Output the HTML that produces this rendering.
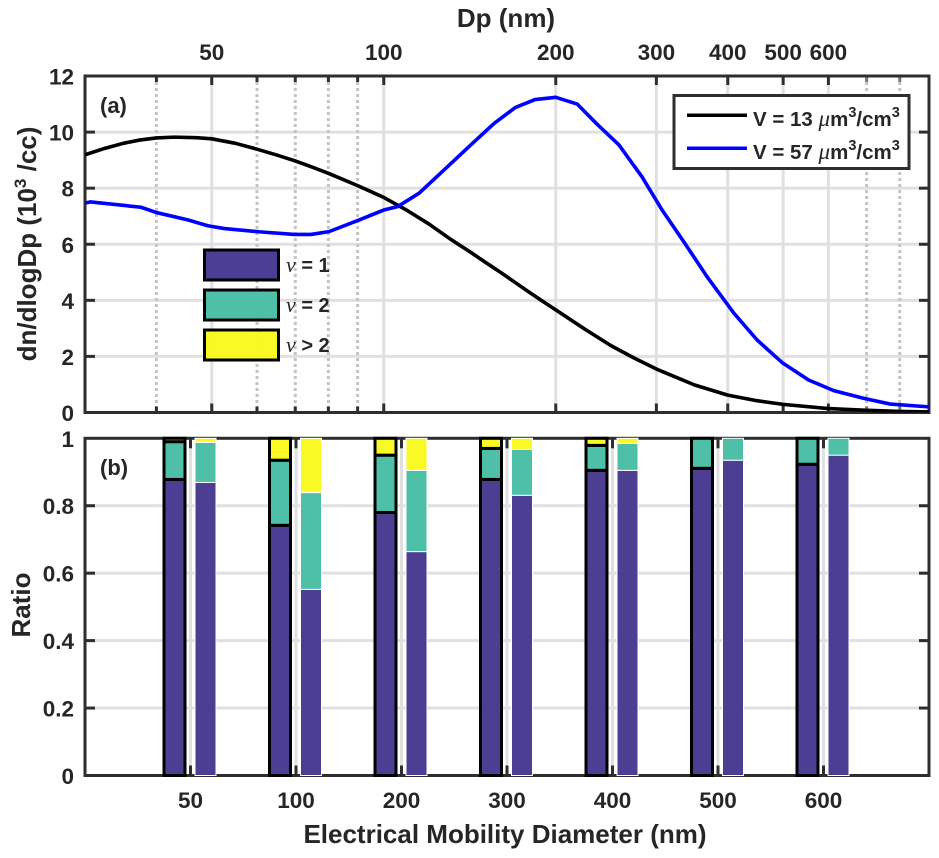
<!DOCTYPE html>
<html lang="en">
<head>
<meta charset="utf-8">
<title>Size distribution and charge ratio</title>
<style>
html,body{margin:0;padding:0;background:#fff;}
svg{display:block;}
text{font-family:"Liberation Sans",sans-serif;font-weight:bold;fill:#262626;}
.mu{font-family:"Liberation Serif",serif;font-style:italic;font-weight:normal;}
</style>
</head>
<body>
<svg id="chart" xmlns="http://www.w3.org/2000/svg" width="939" height="858" viewBox="0 0 939 858">
  <defs>
    <clipPath id="clip-a"><rect x="85" y="76" width="844" height="336.5"/></clipPath>
  </defs>
  <rect x="0" y="0" width="939" height="858" fill="#ffffff"/>
  <g id="grid-a"></g>
  <g id="ticks-a"></g>
  <rect x="85" y="76" width="844" height="336.5" fill="none" stroke="#2e2e2e" stroke-width="3"/>
  <g id="curves-a" clip-path="url(#clip-a)"></g>
  <g id="labels-a"></g>

  <text x="506" y="27" font-size="26" text-anchor="middle">Dp (nm)</text>
  <text transform="translate(36,244) rotate(-90)" font-size="26" text-anchor="middle">dn/dlogDp (10<tspan font-size="17" dy="-10">3</tspan><tspan dy="10"> /cc)</tspan></text>
  <text x="100" y="113" font-size="22">(a)</text>

  <g>
    <rect x="674" y="95.5" width="235" height="73" fill="#ffffff" stroke="#2e2e2e" stroke-width="3"/>
    <line x1="687" x2="747" y1="115.3" y2="115.3" stroke="#000000" stroke-width="3.5"/>
    <line x1="687" x2="747" y1="148.3" y2="148.3" stroke="#0000ff" stroke-width="3.5"/>
    <text x="753" y="126" font-size="20.5" fill="#1a1a1a">V = 13 <tspan class="mu" font-size="23">μ</tspan>m<tspan font-size="14.5" dy="-9">3</tspan><tspan dy="9">/cm</tspan><tspan font-size="14.5" dy="-9">3</tspan></text>
    <text x="753" y="159" font-size="20.5" fill="#1a1a1a">V = 57 <tspan class="mu" font-size="23">μ</tspan>m<tspan font-size="14.5" dy="-9">3</tspan><tspan dy="9">/cm</tspan><tspan font-size="14.5" dy="-9">3</tspan></text>
  </g>

  <g>
    <rect x="204.5" y="250" width="74" height="30" fill="#453890" fill-opacity="0.97" stroke="#000" stroke-width="3"/>
    <rect x="204.5" y="290" width="74" height="30" fill="#48bea5" fill-opacity="0.97" stroke="#000" stroke-width="3"/>
    <rect x="204.5" y="330" width="74" height="30" fill="#f9fa1e" fill-opacity="0.97" stroke="#000" stroke-width="3"/>
    <text x="286" y="272" font-size="20" fill="#111"><tspan class="mu" font-size="22">ν</tspan> = 1</text>
    <text x="286" y="312" font-size="20" fill="#111"><tspan class="mu" font-size="22">ν</tspan> = 2</text>
    <text x="286" y="352" font-size="20" fill="#111"><tspan class="mu" font-size="22">ν</tspan> &gt; 2</text>
  </g>

  <g id="grid-b"></g>
  <g id="ticks-b"></g>
  <rect x="85" y="438.3" width="844" height="337.2" fill="none" stroke="#2e2e2e" stroke-width="3"/>
  <g id="bars-b"></g>
  <g id="labels-b"></g>

  <text x="100" y="475" font-size="22">(b)</text>
  <text transform="translate(30,605) rotate(-90)" font-size="26" text-anchor="middle">Ratio</text>
  <text x="505" y="843" font-size="26" text-anchor="middle">Electrical Mobility Diameter (nm)</text>
</svg>
<script>
/* Panel (a): size distributions */
const dpBlack = [30,32.5,35,37.5,40,43,47,50,55,60,65,70,75,80,90,100,110,120,130,142,150,160,170,180,190,200,225,250,275,300,350,400,450,500,600,700,800,900];
const valBlack = [9.19,9.42,9.6,9.72,9.79,9.82,9.8,9.76,9.6,9.39,9.18,8.97,8.75,8.53,8.09,7.67,7.2,6.72,6.22,5.71,5.38,5.0,4.63,4.28,3.96,3.66,2.97,2.38,1.93,1.55,0.98,0.62,0.42,0.29,0.14,0.08,0.04,0.02];
const dpBlue = [30,30.7,37.6,40,45.4,49.2,52.6,60,69.7,74.6,80.2,89.9,100,105.7,115.3,127.5,142,156,170,184,200,218,236,258,283,307,335,368,410,450,498,554,613,691,770,900];
const valBlue = [7.47,7.51,7.32,7.13,6.87,6.66,6.56,6.45,6.35,6.35,6.45,6.84,7.22,7.34,7.82,8.65,9.54,10.31,10.88,11.16,11.24,11.0,10.29,9.54,8.41,7.22,6.09,4.84,3.54,2.59,1.78,1.16,0.78,0.51,0.30,0.2];
const topMajorTicks = [50,100,200,300,400,500,600];
const topMinorTicks = [40,60,70,80,90,700,800];
const aYTicks = [0,2,4,6,8,10,12];

/* Panel (b): charge ratio bars */
const sizeLabels = ['50','100','200','300','400','500','600'];
const bTickLabels = ['0','0.2','0.4','0.6','0.8','1'];
const bTicks = [0,0.2,0.4,0.6,0.8,1];
const outlinedNu1 = [0.878,0.742,0.78,0.878,0.905,0.911,0.923];
const outlinedNu2 = [0.112,0.193,0.17,0.092,0.074,0.089,0.077];
const outlinedNuMore = [0.01,0.065,0.05,0.03,0.021,0,0];
const plainNu1 = [0.869,0.552,0.664,0.831,0.905,0.935,0.95];
const plainNu2 = [0.119,0.287,0.241,0.136,0.08,0.065,0.05];
const plainNuMore = [0.012,0.161,0.095,0.033,0.015,0,0];

const NS = 'http://www.w3.org/2000/svg';
const AX = {left:85,right:929,aTop:76,aBottom:412.5,bTop:438.3,bBottom:775.5};
const xLogMin = Math.log10(30), xLogMax = Math.log10(900);
function xA(d){return AX.left+(Math.log10(d)-xLogMin)/(xLogMax-xLogMin)*(AX.right-AX.left);}
function yA(v){return AX.aBottom-v/12*(AX.aBottom-AX.aTop);}
function xB(i){return AX.left+(i+1)/8*(AX.right-AX.left);}
function yB(v){return AX.bBottom-v*(AX.bBottom-AX.bTop);}
function mk(tag,attrs,parent){
  const el=document.createElementNS(NS,tag);
  for(const k in attrs){el.setAttribute(k,attrs[k]);}
  parent.appendChild(el);
  return el;
}
const gridA=document.getElementById('grid-a');
const ticksA=document.getElementById('ticks-a');
const curvesA=document.getElementById('curves-a');
const labelsA=document.getElementById('labels-a');
const gridB=document.getElementById('grid-b');
const ticksB=document.getElementById('ticks-b');
const barsB=document.getElementById('bars-b');
const labelsB=document.getElementById('labels-b');
const GRID='#e0e0e0', TICK='#2e2e2e';

aYTicks.forEach(function(v){
  const y=yA(v);
  if(v>0&&v<12){
    const g=mk('line',{x1:AX.left,x2:AX.right,y1:y,y2:y,stroke:GRID,'stroke-width':3},gridA);
    
    
    const t1=mk('line',{x1:AX.left,x2:AX.left+10,y1:y,y2:y,stroke:TICK,'stroke-width':3},ticksA);
    
    
    const t2=mk('line',{x1:AX.right-10,x2:AX.right,y1:y,y2:y,stroke:TICK,'stroke-width':3},ticksA);
    
    
  }
  const l=mk('text',{x:74,y:y+8.5,'font-size':22.5,'text-anchor':'end'},labelsA);
  
  
  l.textContent=String(v);
});
topMinorTicks.forEach(function(d){
  const x=xA(d);
  const g=mk('line',{x1:x,x2:x,y1:AX.aTop,y2:AX.aBottom,stroke:'#c4c4c4','stroke-width':3,'stroke-dasharray':'3 3'},gridA);
  
  
  const t1=mk('line',{x1:x,x2:x,y1:AX.aTop,y2:AX.aTop+6,stroke:d>600?'#777':TICK,'stroke-width':3},ticksA);
  
  
  const t2=mk('line',{x1:x,x2:x,y1:AX.aBottom-6,y2:AX.aBottom,stroke:d>600?'#777':TICK,'stroke-width':3},ticksA);
  
  
});
topMajorTicks.forEach(function(d){
  const x=xA(d);
  const g=mk('line',{x1:x,x2:x,y1:AX.aTop,y2:AX.aBottom,stroke:GRID,'stroke-width':3},gridA);
  
  
  const t1=mk('line',{x1:x,x2:x,y1:AX.aTop,y2:AX.aTop+9,stroke:TICK,'stroke-width':3},ticksA);
  
  
  const t2=mk('line',{x1:x,x2:x,y1:AX.aBottom-9,y2:AX.aBottom,stroke:TICK,'stroke-width':3},ticksA);
  
  
  const l=mk('text',{x:x,y:60,'font-size':22.5,'text-anchor':'middle'},labelsA);
  
  
  l.textContent=String(d);
});
function pointsOf(xs,ys){return xs.map(function(d,i){return xA(d).toFixed(2)+','+yA(ys[i]).toFixed(2);}).join(' ');}
const blackCurve=mk('polyline',{points:pointsOf(dpBlack,valBlack),fill:'none',stroke:'#000000','stroke-width':3.6,'stroke-linejoin':'round'},curvesA);


const blueCurve=mk('polyline',{points:pointsOf(dpBlue,valBlue),fill:'none',stroke:'#0000ff','stroke-width':3.6,'stroke-linejoin':'round'},curvesA);



bTicks.forEach(function(v,i){
  const y=yB(v);
  if(v>0&&v<1){
    const g=mk('line',{x1:AX.left,x2:AX.right,y1:y,y2:y,stroke:GRID,'stroke-width':3},gridB);
    
    
    const t1=mk('line',{x1:AX.left,x2:AX.left+10,y1:y,y2:y,stroke:TICK,'stroke-width':3},ticksB);
    
    
    const t2=mk('line',{x1:AX.right-10,x2:AX.right,y1:y,y2:y,stroke:TICK,'stroke-width':3},ticksB);
    
    
  }
  const l=mk('text',{x:74,y:y+8.5,'font-size':22.5,'text-anchor':'end'},labelsB);
  
  
  l.textContent=bTickLabels[i];
});
sizeLabels.forEach(function(s,i){
  const x=xB(i);
  const g=mk('line',{x1:x,x2:x,y1:AX.bTop,y2:AX.bBottom,stroke:GRID,'stroke-width':3},gridB);
  
  
  const t1=mk('line',{x1:x,x2:x,y1:AX.bTop,y2:AX.bTop+10,stroke:TICK,'stroke-width':3},ticksB);
  
  
  const t2=mk('line',{x1:x,x2:x,y1:AX.bBottom-10,y2:AX.bBottom,stroke:TICK,'stroke-width':3},ticksB);
  
  
  const l=mk('text',{x:x,y:808,'font-size':22.5,'text-anchor':'middle'},labelsB);
  
  
  l.textContent=s;
});
const segColors=['#453890','#48bea5','#f9fa1e'];
function drawStack(i,offset,a,b,c,edge,edgeWidth,name){
  const w=21, x=xB(i)+offset-w/2;
  let base=0;
  [a[i],b[i],c[i]].forEach(function(v,k){
    if(v<=0){return;}
    const r=mk('rect',{x:x,y:yB(base+v),width:w,height:yB(base)-yB(base+v),fill:segColors[k],'fill-opacity':0.97,stroke:edge,'stroke-width':edgeWidth},barsB);
    
    
    base+=v;
  });
}
sizeLabels.forEach(function(s,i){
  drawStack(i,15,plainNu1,plainNu2,plainNuMore,'#ffffff',1,'plain-bar-'+s);
  drawStack(i,-16,outlinedNu1,outlinedNu2,outlinedNuMore,'#000000',3,'outlined-bar-'+s);
});
</script>
</body>
</html>
